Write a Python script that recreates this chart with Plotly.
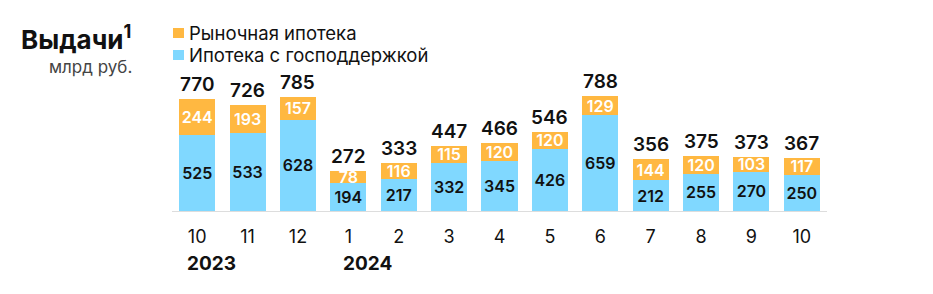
import plotly.graph_objects as go

months = ["10", "11", "12", "1", "2", "3", "4", "5", "6", "7", "8", "9", "10"]
cat_ids = [f"m{i}" for i in range(len(months))]
gov = [525, 533, 628, 194, 217, 332, 345, 426, 659, 212, 255, 270, 250]
market = [244, 193, 157, 78, 116, 115, 120, 120, 129, 144, 120, 103, 117]
totals = [770, 726, 785, 272, 333, 447, 466, 546, 788, 356, 375, 373, 367]
years = [("2023", 0, "10"), ("2024", 3, "1")]

BLUE = "#80D8FF"
ORANGE = "#FFB841"
FONT = "Inter"
INK = "#111111"

W, H = 933, 294
L, R, T, B = 172, 827, 70, 211


def px(x):
    return (x - L) / (R - L)


def py(y):
    return (B - y) / (B - T)


fig = go.Figure()
fig.add_trace(go.Bar(
    x=cat_ids, y=gov, name="Ипотека с господдержкой",
    marker=dict(color=BLUE, line=dict(width=0)),
    text=[str(v) for v in gov], textposition="inside", insidetextanchor="middle",
    textangle=0, constraintext="none",
    textfont=dict(family=FONT, size=16, color=INK, weight=600),
    showlegend=False,
))
fig.add_trace(go.Bar(
    x=cat_ids, y=market, name="Рыночная ипотека",
    marker=dict(color=ORANGE, line=dict(width=0)),
    text=[str(v) for v in market], textposition="inside", insidetextanchor="middle",
    textangle=0, constraintext="none",
    textfont=dict(family=FONT, size=16, color="white", weight=600),
    showlegend=False,
))

annotations = []
for cid, t in zip(cat_ids, totals):
    annotations.append(dict(
        x=cid, y=t, xref="x", yref="y", text=str(t), showarrow=False,
        yanchor="bottom", yshift=1,
        font=dict(family=FONT, size=19, color=INK, weight=600),
    ))

for label, idx, tick in years:
    shift = -12 if len(tick) == 2 else -7
    annotations.append(dict(
        x=cat_ids[idx], y=py(263), xref="x", yref="paper", text=label,
        showarrow=False, xanchor="left", yanchor="middle", xshift=shift,
        font=dict(family=FONT, size=19, color=INK, weight=700),
    ))

# title
annotations.append(dict(
    x=px(133), y=py(38), xref="paper", yref="paper",
    text="Выдачи<sup>1</sup>", showarrow=False, xanchor="right", yanchor="middle",
    font=dict(family=FONT, size=26, color=INK, weight=700),
))
annotations.append(dict(
    x=px(134), y=py(67), xref="paper", yref="paper",
    text="млрд руб.", showarrow=False, xanchor="right", yanchor="middle",
    font=dict(family=FONT, size=17, color="#444444"),
))

# legend
legend_items = [("Рыночная ипотека", ORANGE, 33), ("Ипотека с господдержкой", BLUE, 55)]
shapes = []
for text, color, yc in legend_items:
    shapes.append(dict(
        type="rect", xref="paper", yref="paper",
        x0=px(173), x1=px(184), y0=py(yc + 5), y1=py(yc - 5),
        fillcolor=color, line=dict(width=0),
    ))
    annotations.append(dict(
        x=px(187), y=py(yc), xref="paper", yref="paper", text=text,
        showarrow=False, xanchor="left", yanchor="middle",
        font=dict(family=FONT, size=18.5, color=INK),
    ))

fig.update_layout(
    width=W, height=H,
    margin=dict(l=L, r=W - R, t=T, b=H - B, pad=0),
    barmode="stack", bargap=0.285,
    plot_bgcolor="white", paper_bgcolor="white",
    annotations=annotations, shapes=shapes,
    font=dict(family=FONT, color=INK),
    showlegend=False,
)
fig.update_xaxes(
    tickvals=cat_ids, ticktext=months, range=[-0.5, 12.5],
    showgrid=False, zeroline=False, showline=True, linecolor="#DDDDDD", linewidth=1,
    ticks="", ticklabelstandoff=9,
    tickfont=dict(family=FONT, size=18, color=INK),
    fixedrange=True,
)
fig.update_yaxes(
    range=[0, (B - T) / 0.1455], visible=False, fixedrange=True,
)

fig.write_html("out.html", config={"displayModeBar": False})
